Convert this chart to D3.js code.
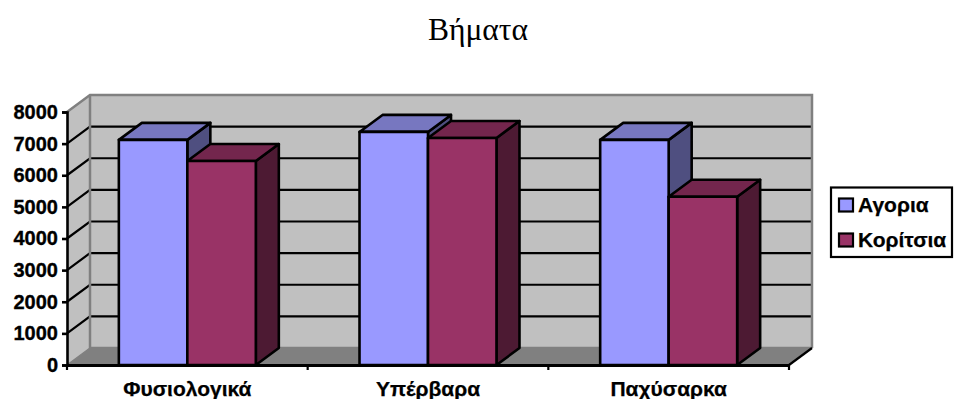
<!DOCTYPE html>
<html lang="el">
<head>
<meta charset="utf-8">
<title>Βήματα</title>
<script src="https://cdn.jsdelivr.net/npm/d3@7"></script>
<style>
  html, body { margin: 0; background: #fff; }
  svg { display: block; }
  text { font-family: "Liberation Sans", Arial, sans-serif; font-weight: bold; fill: #000; }
</style>
</head>
<body>
<svg id="chart" width="956" height="399"></svg>
<script>
const chartTitle = "Βήματα";
const categories = ["Φυσιολογικά", "Υπέρβαρα", "Παχύσαρκα"];
const seriesNames = ["Αγορια", "Κορίτσια"];
const boys = [7120, 7370, 7120];
const girls = [6450, 7180, 5320];
const yTicks = [0, 1000, 2000, 3000, 4000, 5000, 6000, 7000, 8000];

const front = { left: 67, right: 789, bottom: 365, top: 112 };
const depth = { dx: 23, dy: -17 };
const palette = {
  wall: "#c0c0c0", floor: "#808080", edge: "#808080",
  boys: { face: "#9999ff", top: "#7777c0", side: "#4f4f80" },
  girls: { face: "#993366", top: "#73264d", side: "#4d1a33" }
};

const svg = d3.select("#chart");
const x = d3.scaleBand().domain(categories).range([front.left, front.right]);
const y = d3.scaleLinear().domain([0, 8000]).range([front.bottom, front.top]);
const bandSeries = d3.scaleBand().domain(seriesNames)
  .range([0, x.bandwidth()]).paddingInner(0).paddingOuter(0.757);

const poly = pts => d3.line()(pts) + "Z";
const back = ([px, py]) => [px + depth.dx, py + depth.dy];

// Walls and floor of the 3D box
const xL = front.left, xR = front.right, y0 = y(0), yT = y(8000);
svg.append("path").attr("fill", palette.wall)
  .attr("d", poly([[xL, y0], back([xL, y0]), back([xL, yT]), [xL, yT]]));
svg.append("path").attr("fill", palette.wall)
  .attr("d", poly([back([xL, y0]), back([xR, y0]), back([xR, yT]), back([xL, yT])]));
svg.append("path").attr("fill", palette.floor)
  .attr("d", poly([[xL, y0], [xR, y0], back([xR, y0]), back([xL, y0])]));

// Gridlines run along the side wall and across the back wall
const inner = yTicks.filter(t => t > 0 && t < 8000);
svg.append("g").selectAll("path").data(inner).join("path")
  .attr("fill", "none").attr("stroke", "#000").attr("stroke-width", 2.2)
  .attr("d", t => d3.line()([[xL, y(t)], back([xL, y(t)]), back([xR, y(t)])]));

// Grey wall edges
svg.append("path").attr("fill", "none").attr("stroke", palette.edge).attr("stroke-width", 2.5)
  .attr("d", d3.line()([[xL, yT], back([xL, yT]), back([xR, yT]), back([xR, y0])]));
svg.append("path").attr("fill", "none").attr("stroke", palette.edge).attr("stroke-width", 2.5)
  .attr("d", d3.line()([back([xL, yT]), back([xL, y0]), back([xR, y0])]));
svg.append("path").attr("fill", "none").attr("stroke", palette.edge).attr("stroke-width", 1.5)
  .attr("d", d3.line()([[xL, y0], back([xL, y0])]));
svg.append("path").attr("fill", "none").attr("stroke", "#000").attr("stroke-width", 2.2)
  .attr("d", d3.line()([[xR, y0], back([xR, y0])]));

// 3D columns: side and top faces first, then the front face
const rows = categories.flatMap((c, i) => [
  { c, name: seriesNames[0], v: boys[i], col: palette.boys },
  { c, name: seriesNames[1], v: girls[i], col: palette.girls }
]);
const bars = svg.append("g").selectAll("g").data(rows).join("g")
  .attr("stroke", "#000").attr("stroke-width", 2.6).attr("stroke-linejoin", "round");
const bx0 = d => x(d.c) + bandSeries(d.name);
const bx1 = d => bx0(d) + bandSeries.bandwidth();
bars.append("path").attr("fill", d => d.col.side)
  .attr("d", d => poly([[bx1(d), y0], back([bx1(d), y0]), back([bx1(d), y(d.v)]), [bx1(d), y(d.v)]]));
bars.append("path").attr("fill", d => d.col.top)
  .attr("d", d => poly([[bx0(d), y(d.v)], [bx1(d), y(d.v)], back([bx1(d), y(d.v)]), back([bx0(d), y(d.v)])]));
bars.append("rect").attr("fill", d => d.col.face)
  .attr("x", bx0).attr("width", d => bx1(d) - bx0(d))
  .attr("y", d => y(d.v)).attr("height", d => y0 - y(d.v));

// Axes
const yAxis = d3.axisLeft(y).tickValues(yTicks).tickFormat(d3.format("d")).tickSize(5).tickPadding(4);
const yG = svg.append("g").attr("transform", `translate(${xL},0)`).call(yAxis);
yG.selectAll("path, line").attr("stroke", "#000").attr("stroke-width", 2.6);
yG.selectAll("text").attr("font-size", 20).style("font-family", "Liberation Sans").style("font-weight", "bold")
  .attr("stroke", "#000").attr("stroke-width", 0.35);

const xG = svg.append("g").attr("transform", `translate(0,${y0})`).call(d3.axisBottom(x).tickSize(0).tickPadding(16));
xG.selectAll("path").attr("stroke", "#000").attr("stroke-width", 2.8);
xG.selectAll("text").attr("font-size", 21).style("font-family", "Liberation Sans").style("font-weight", "bold")
  .attr("stroke", "#000").attr("stroke-width", 0.25);
svg.append("g").selectAll("line").data(x.domain().map(c => x(c)).concat(xR)).join("line")
  .attr("x1", d => d).attr("x2", d => d).attr("y1", y0).attr("y2", y0 + 5)
  .attr("stroke", "#000").attr("stroke-width", 2.2);

// Title
svg.append("text").attr("x", 478).attr("y", 40).attr("text-anchor", "middle")
  .style("font-family", "Liberation Serif").style("font-weight", "normal")
  .attr("font-size", 31.5).text(chartTitle);

// Legend
const legend = svg.append("g");
legend.append("rect").attr("x", 831).attr("y", 187.5).attr("width", 121).attr("height", 69.5)
  .attr("fill", "#fff").attr("stroke", "#000").attr("stroke-width", 2.2);
const swatches = [palette.boys.face, palette.girls.face];
const rowY = d3.scalePoint().domain(seriesNames).range([205, 240]);
const items = legend.selectAll("g").data(seriesNames).join("g")
  .attr("transform", d => `translate(0,${rowY(d)})`);
items.append("rect").attr("x", 839).attr("y", -6.5).attr("width", 14).attr("height", 13)
  .attr("fill", (d, i) => swatches[i]).attr("stroke", "#000").attr("stroke-width", 2.2);
items.append("text").attr("x", 858).attr("y", 7).attr("font-size", 21).attr("stroke", "#000").attr("stroke-width", 0.25).text(d => d);
</script>
</body>
</html>
